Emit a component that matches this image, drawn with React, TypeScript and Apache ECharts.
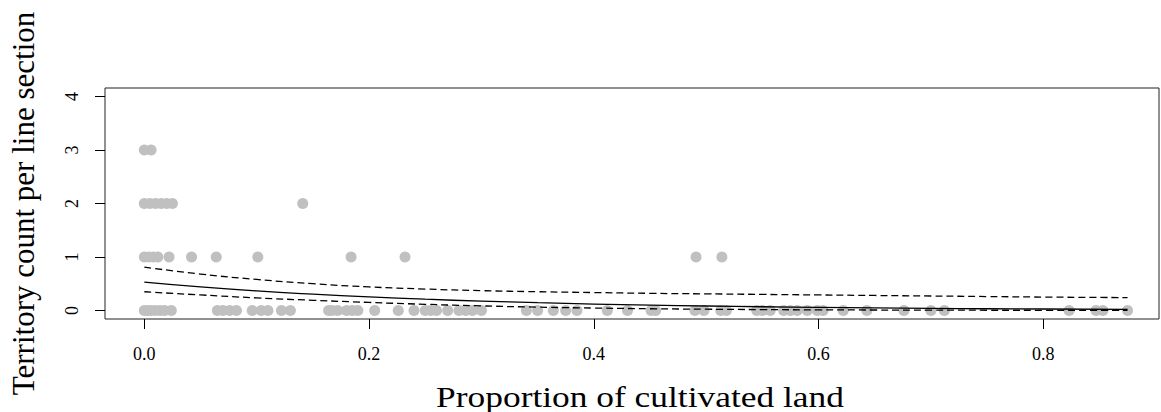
import React, { useEffect, useRef } from "react";
import * as echarts from "echarts";

// Observed points: proportion of cultivated land (x) grouped by territory count (y)
const countZeroX = [
  0.0, 0.003, 0.006, 0.01, 0.014, 0.018, 0.024, 0.065, 0.07, 0.076, 0.082, 0.096, 0.104, 0.11,
  0.122, 0.13, 0.164, 0.167, 0.172, 0.18, 0.185, 0.19, 0.205, 0.226, 0.24, 0.25, 0.255, 0.26,
  0.27, 0.28, 0.286, 0.292, 0.3, 0.34, 0.35, 0.364, 0.375, 0.385, 0.412, 0.43, 0.451, 0.455,
  0.49, 0.498, 0.513, 0.518, 0.545, 0.55, 0.557, 0.569, 0.575, 0.581, 0.59, 0.599, 0.604,
  0.622, 0.643, 0.676, 0.7, 0.712, 0.823, 0.847, 0.853, 0.875,
];
const countOneX = [0.0, 0.004, 0.008, 0.012, 0.022, 0.042, 0.064, 0.101, 0.184, 0.232, 0.491, 0.514];
const countTwoX = [0.0, 0.005, 0.01, 0.015, 0.02, 0.025, 0.141];
const countThreeX = [0.0, 0.006];

// Fitted curve and confidence band
const curveX = [0, 0.05, 0.1, 0.15, 0.2, 0.25, 0.3, 0.35, 0.4, 0.45, 0.5, 0.55, 0.6, 0.65, 0.7, 0.75, 0.8, 0.875];
const fitY = [0.53, 0.44, 0.365, 0.305, 0.255, 0.21, 0.175, 0.145, 0.12, 0.1, 0.083, 0.069, 0.057, 0.047, 0.039, 0.032, 0.027, 0.02];
const upperY = [0.81, 0.68, 0.58, 0.5, 0.44, 0.4, 0.37, 0.35, 0.335, 0.32, 0.31, 0.3, 0.29, 0.28, 0.27, 0.26, 0.25, 0.24];
const lowerY = [0.35, 0.29, 0.235, 0.19, 0.15, 0.115, 0.085, 0.062, 0.045, 0.032, 0.023, 0.016, 0.011, 0.008, 0.005, 0.004, 0.003, 0.002];

const xTicks = [0, 0.2, 0.4, 0.6, 0.8];
const yTicks = [0, 1, 2, 3, 4];

const xTitle = "Proportion of cultivated land";
const yTitle = "Territory count per line section";

const FONT = "Liberation Serif";

export default function App() {
  const ref = useRef<HTMLDivElement>(null);
  useEffect(() => {
    if (!ref.current) return;
    const chart = echarts.init(ref.current, null, { renderer: "svg" });
    const pts: number[][] = [];
    countZeroX.forEach((x) => pts.push([x, 0]));
    countOneX.forEach((x) => pts.push([x, 1]));
    countTwoX.forEach((x) => pts.push([x, 2]));
    countThreeX.forEach((x) => pts.push([x, 3]));
    const line = (ys: number[]) => curveX.map((x, i) => [x, ys[i]]);
    chart.setOption({
      animation: false,
      backgroundColor: "#ffffff",
      grid: {
        left: 102,
        right: 2,
        top: 88,
        bottom: 93,
        show: true,
        borderColor: "#222",
        borderWidth: 1,
      },
      graphic: [
        {
          type: "text",
          x: 640,
          y: 397,
          scaleX: 1.18,
          style: {
            text: xTitle,
            fontFamily: FONT,
            fontSize: 30,
            fill: "#000",
            textAlign: "center",
            textVerticalAlign: "middle",
          },
        },
      ],
      xAxis: {
        type: "value",
        min: -0.035,
        max: 0.903,
        axisLine: { show: false, onZero: false },
        axisTick: { show: true, length: 10, customValues: xTicks, lineStyle: { color: "#000" } },
        axisLabel: {
          customValues: xTicks,
          margin: 26,
          fontFamily: FONT,
          fontSize: 18,
          color: "#000",
          formatter: (v: number) => v.toFixed(1),
        },
        splitLine: { show: false },
      },
      yAxis: {
        type: "value",
        min: -0.16,
        max: 4.16,
        name: yTitle,
        nameLocation: "middle",
        nameGap: 66,
        nameTextStyle: { fontFamily: FONT, fontSize: 31, color: "#000" },
        axisLine: { show: false, onZero: false },
        axisTick: { show: true, length: 10, customValues: yTicks, lineStyle: { color: "#000" } },
        axisLabel: {
          customValues: yTicks,
          rotate: 90,
          margin: 24,
          fontFamily: FONT,
          fontSize: 18,
          color: "#000",
        },
        splitLine: { show: false },
      },
      series: [
        {
          type: "scatter",
          data: pts,
          symbolSize: 11,
          itemStyle: { color: "#c0c0c0", opacity: 1 },
        },
        {
          type: "line",
          data: line(upperY),
          showSymbol: false,
          smooth: true,
          lineStyle: { color: "#000", width: 1.3, type: [7, 4] },
        },
        {
          type: "line",
          data: line(fitY),
          showSymbol: false,
          smooth: true,
          lineStyle: { color: "#000", width: 1.3 },
        },
        {
          type: "line",
          data: line(lowerY),
          showSymbol: false,
          smooth: true,
          lineStyle: { color: "#000", width: 1.3, type: [7, 4] },
        },
      ],
    });
    return () => chart.dispose();
  }, []);
  return (
    <div
      ref={ref}
      style={{ position: "fixed", left: 0, top: 0, width: 1161, height: 412 }}
    />
  );
}
